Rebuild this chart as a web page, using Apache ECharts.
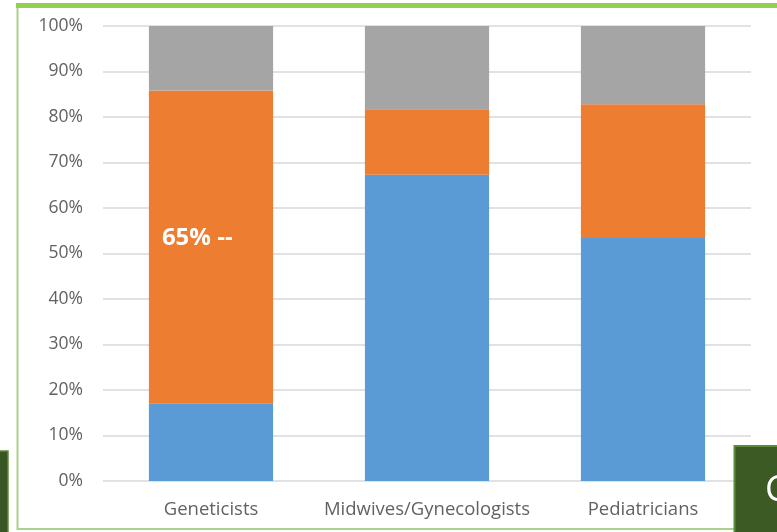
<!DOCTYPE html>
<html>
<head>
<meta charset="utf-8">
<script src="https://cdn.jsdelivr.net/npm/echarts@6/dist/echarts.min.js"></script>
<style>
  html, body { margin: 0; padding: 0; background: #ffffff; }
  #chart { width: 777px; height: 532px; }
</style>
</head>
<body>
<div id="chart"></div>
<script>
// Respondent groups along the x axis
const categories = ['Geneticists', 'Midwives/Gynecologists', 'Pediatricians'];

// Stacked shares (percent) per group, bottom to top
const blueShare   = [17.1, 67.3, 53.4];
const orangeShare = [68.7, 14.4, 29.4];
const grayShare   = [14.2, 18.3, 17.2];

// Y axis ticks
const yMin = 0, yMax = 100, yStep = 10;

// Annotation written inside the Geneticists orange segment
const noteText = '65% --';
const noteIndex = 0;

const chart = echarts.init(document.getElementById('chart'), null, { renderer: 'canvas' });

const fontFamily = '"Open Sans", "Liberation Sans", sans-serif';

const orangeData = orangeShare.map((v, i) => i === noteIndex ? {
  value: v,
  label: {
    show: true,
    position: 'insideLeft',
    distance: 13,
    offset: [0, -9],
    formatter: noteText,
    color: '#ffffff',
    fontWeight: 'bold',
    fontSize: 24,
    fontFamily: fontFamily
  }
} : v);

chart.setOption({
  backgroundColor: '#ffffff',
  animation: false,
  grid: { left: 103, right: 26, top: 26, bottom: 51, containLabel: false },
  xAxis: {
    type: 'category',
    data: categories,
    axisLine: { show: false },
    axisTick: { show: false },
    axisLabel: { color: '#626262', fontSize: 18.5, fontFamily: fontFamily, margin: 19,
                 interval: 0, hideOverlap: false }
  },
  yAxis: {
    type: 'value',
    min: yMin, max: yMax, interval: yStep,
    axisLine: { show: false },
    axisTick: { show: false },
    axisLabel: { color: '#626262', fontSize: 17.5, fontFamily: fontFamily, margin: 20, formatter: '{value}%' },
    splitLine: { lineStyle: { color: '#d9d9d9', width: 1.5 } }
  },
  series: [
    { name: 'blue', type: 'bar', stack: 'all', data: blueShare, barWidth: '57.5%',
      itemStyle: { color: '#5B9BD5' } },
    { name: 'orange', type: 'bar', stack: 'all', data: orangeData,
      itemStyle: { color: '#ED7D31' } },
    { name: 'gray', type: 'bar', stack: 'all', data: grayShare,
      itemStyle: { color: '#A5A5A5' } }
  ],
  graphic: [
    // slide frame around the chart
    { type: 'rect', silent: true, z: 100,
      shape: { x: 17.5, y: 5, width: 800, height: 524 },
      style: { fill: null, stroke: '#A9D18E', lineWidth: 2 } },
    { type: 'rect', silent: true, z: 101,
      shape: { x: 16, y: 3, width: 761, height: 5 },
      style: { fill: '#92D050' } },
    // dark green side panels
    { type: 'rect', silent: true, z: 102,
      shape: { x: -4, y: 451, width: 12, height: 90 },
      style: { fill: '#375623', stroke: '#5E8C3E', lineWidth: 1.5 } },
    { type: 'rect', silent: true, z: 102,
      shape: { x: 734.5, y: 446, width: 50, height: 95 },
      style: { fill: '#3B5A24', stroke: '#5E8C3E', lineWidth: 2 } },
    { type: 'text', silent: true, z: 103,
      style: { x: 765, y: 491, text: 'C', fill: '#ffffff', fontSize: 36,
               fontFamily: fontFamily, verticalAlign: 'middle', align: 'left' } }
  ]
});
</script>
</body>
</html>
